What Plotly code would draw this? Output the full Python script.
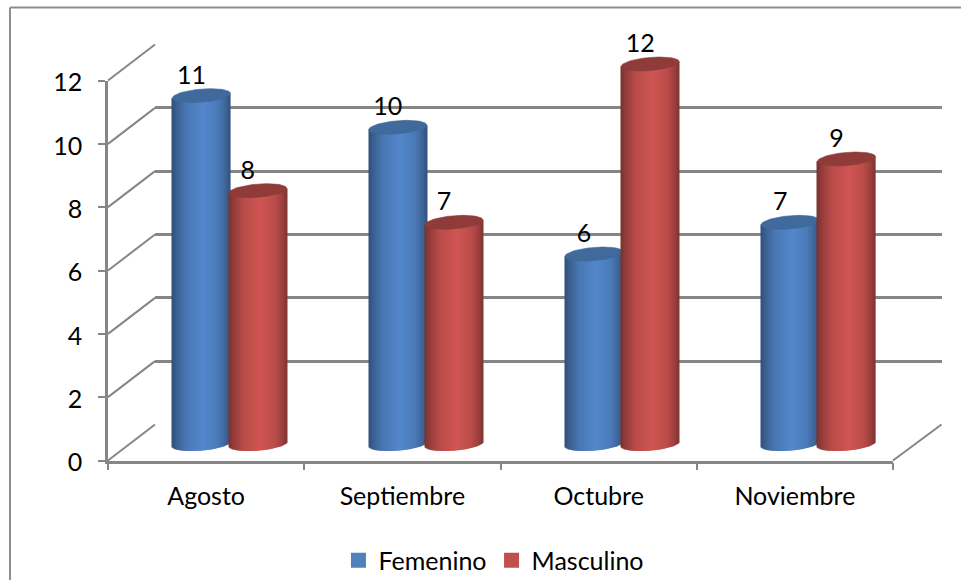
import numpy as np
import plotly.graph_objects as go

categories = ["Agosto", "Septiembre", "Octubre", "Noviembre"]
femenino = [11, 10, 6, 7]
masculino = [8, 7, 12, 9]
y_ticks = [0, 2, 4, 6, 8, 10, 12]

W, H = 961, 580
GRID = "#868686"
FONT = dict(family="Lato, Carlito, sans-serif", size=25, color="#000000")

# pixel geometry of the pseudo-3D box
FX0, FX1, FY0, FY1 = 108, 893, 460.5, 80.5     # front plane
BX0, BX1, BY0, BY1 = 155, 941.5, 424.5, 44.5   # back wall
BAR_DX, BAR_Y0 = 23.5, 444.0                   # plane the cylinders stand on
PX_X = (FX1 - FX0) / 4
PX_Y = (FY0 - FY1) / 12
HALF = 29.0       # cylinder half width, px
CAP_B = 6.6       # ellipse minor radius, px
SHEAR = 2.3       # tilt of the ellipse, px at the rim
OFFSET = 28.15    # cylinder centre away from group centre, px


def dom_x(a, b):
    return [a / W, b / W]


def dom_y(bottom, top):
    return [1 - bottom / H, 1 - top / H]


def shade(base, t):
    f = np.interp(t, [0, .08, .25, .55, .8, .93, 1], [.58, .7, .88, 1, .9, .75, .62])
    r, g, b = [int(c * f) for c in base]
    return f"rgb({r},{g},{b})"


def cylinder(values, sign, body, cap, xa, ya, name):
    xs, bases, heights, cols = [], [], [], []
    cap_x, cap_y = [], []
    theta = np.linspace(0, 2 * np.pi, 73)
    for i, v in enumerate(values):
        cx = i + sign * OFFSET / PX_X
        for d in np.arange(-HALF + .5, HALF, 1.0):
            u = d / HALF
            low = (-CAP_B * np.sqrt(max(0, 1 - u * u)) + SHEAR * u) / PX_Y
            top = v + SHEAR * u / PX_Y
            xs.append(cx + d / PX_X)
            bases.append(low)
            heights.append(top - low)
            cols.append(shade(body, (u + 1) / 2))
        cap_x += list(cx + HALF * np.cos(theta) / PX_X) + [None]
        cap_y += list(v + (CAP_B * np.sin(theta) + SHEAR * np.cos(theta)) / PX_Y) + [None]
    return [
        go.Bar(x=xs, y=heights, base=bases, width=1.25 / PX_X, xaxis=xa, yaxis=ya,
               marker=dict(color=cols, line=dict(width=0)), showlegend=False,
               hoverinfo="skip", name=name),
        go.Scatter(x=cap_x, y=cap_y, mode="lines", fill="toself", fillcolor=cap,
                   line=dict(width=0.6, color=cap), xaxis=xa, yaxis=ya,
                   showlegend=False, hoverinfo="skip"),
    ]


fig = go.Figure()

# back wall (gridlines only)
fig.add_trace(go.Scatter(x=[0], y=[0], mode="none", xaxis="x", yaxis="y",
                         showlegend=False, hoverinfo="skip"))
# front axes
fig.add_trace(go.Scatter(x=categories, y=[0, 0, 0, 0], mode="none", xaxis="x2", yaxis="y2",
                         showlegend=False, hoverinfo="skip"))
# legend keys
fig.add_trace(go.Scatter(x=[None], y=[None], mode="markers", name="Femenino", xaxis="x2", yaxis="y2",
                         marker=dict(symbol="square", size=15, color="#4F81BD")))
fig.add_trace(go.Scatter(x=[None], y=[None], mode="markers", name="Masculino", xaxis="x2", yaxis="y2",
                         marker=dict(symbol="square", size=15, color="#C0504D")))

for tr in cylinder(femenino, -1, (84, 136, 204), "#3F6A9B", "x3", "y3", "Femenino"):
    fig.add_trace(tr)
for tr in cylinder(masculino, 1, (208, 86, 83), "#8F3B39", "x4", "y4", "Masculino"):
    fig.add_trace(tr)

# data labels
LABEL_DX, LABEL_DY = -10 / PX_X, 18.2 / PX_Y
for vals, sign in ((femenino, -1), (masculino, 1)):
    fig.add_trace(go.Scatter(
        x=[i + sign * OFFSET / PX_X + LABEL_DX for i in range(len(vals))],
        y=[v + LABEL_DY for v in vals],
        text=[str(v) for v in vals], mode="text", textposition="middle center", cliponaxis=False,
        textfont=FONT, xaxis="x4", yaxis="y4", showlegend=False, hoverinfo="skip"))

shapes = []
line = dict(color=GRID, width=2)
for v in y_ticks:
    yf = FY0 - v * PX_Y
    yb = BY0 - v * PX_Y
    shapes.append(dict(type="line", xref="paper", yref="paper", x0=FX0 / W, x1=BX0 / W,
                       y0=1 - yf / H, y1=1 - yb / H, line=line, layer="below"))
shapes.append(dict(type="line", xref="paper", yref="paper", x0=FX1 / W, x1=BX1 / W,
                   y0=1 - FY0 / H, y1=1 - BY0 / H, line=line, layer="below"))
# chart-area frame (left and top edges)
frame = dict(color="#8E8E8E", width=2)
shapes.append(dict(type="line", xref="paper", yref="paper", x0=10 / W, x1=10 / W, y0=0, y1=1 - 7.5 / H, line=frame))
shapes.append(dict(type="line", xref="paper", yref="paper", x0=10 / W, x1=1, y0=1 - 7.5 / H, y1=1 - 7.5 / H, line=frame))

hidden = dict(visible=False, fixedrange=True)
fig.update_layout(
    width=W, height=H, autosize=False, margin=dict(l=0, r=0, t=0, b=0, autoexpand=False),
    paper_bgcolor="white", plot_bgcolor="rgba(0,0,0,0)", barmode="overlay", shapes=shapes,
    font=FONT,
    xaxis=dict(domain=dom_x(BX0, BX1), range=[0, 1], showgrid=False, zeroline=False,
               showticklabels=False, ticks="", showline=False, anchor="y"),
    yaxis=dict(domain=dom_y(BY0, BY1), range=[0, 12], tickvals=y_ticks, showgrid=True,
               gridcolor=GRID, gridwidth=2.6, zeroline=False, showticklabels=False,
               ticks="", showline=False, anchor="x"),
    xaxis2=dict(domain=dom_x(FX0, FX1), type="category", categoryorder="array", categoryarray=categories,
                range=[-0.5, 3.5], tickson="boundaries", ticks="outside", ticklen=7, tickwidth=2,
                tickcolor=GRID, showline=True, linecolor=GRID, linewidth=2.6, showgrid=False,
                zeroline=False, tickfont=FONT, ticklabelstandoff=12, anchor="y2"),
    yaxis2=dict(domain=dom_y(FY0, FY1), range=[0, 12], tickvals=y_ticks, ticks="outside", ticklen=7,
                tickwidth=2, tickcolor=GRID, showline=True, linecolor=GRID, linewidth=2.6,
                showgrid=False, zeroline=False, tickfont=FONT, ticklabelstandoff=11,
                ticklabelshift=2, anchor="x2"),
    # one unit of head-room either side so caps and rounded bottoms are never clipped
    xaxis3=dict(domain=dom_x(FX0 + BAR_DX, FX1 + BAR_DX), range=[-0.5, 3.5], anchor="y3", **hidden),
    yaxis3=dict(domain=dom_y(BAR_Y0 + PX_Y, BAR_Y0 - 13 * PX_Y + 0), range=[-1, 13], anchor="x3", **hidden),
    xaxis4=dict(domain=dom_x(FX0 + BAR_DX, FX1 + BAR_DX), range=[-0.5, 3.5], anchor="y4", **hidden),
    yaxis4=dict(domain=dom_y(BAR_Y0 + PX_Y, BAR_Y0 - 13 * PX_Y + 0), range=[-1, 13], anchor="x4", **hidden),
    legend=dict(orientation="h", x=0.514, xanchor="center", y=-0.006, yanchor="bottom",
                font=FONT, bgcolor="rgba(0,0,0,0)",
                itemclick=False, itemdoubleclick=False),
)

fig.write_html("out.html", config=dict(displayModeBar=False),
               post_script="document.body.style.margin='0';document.body.style.overflow='hidden';")
